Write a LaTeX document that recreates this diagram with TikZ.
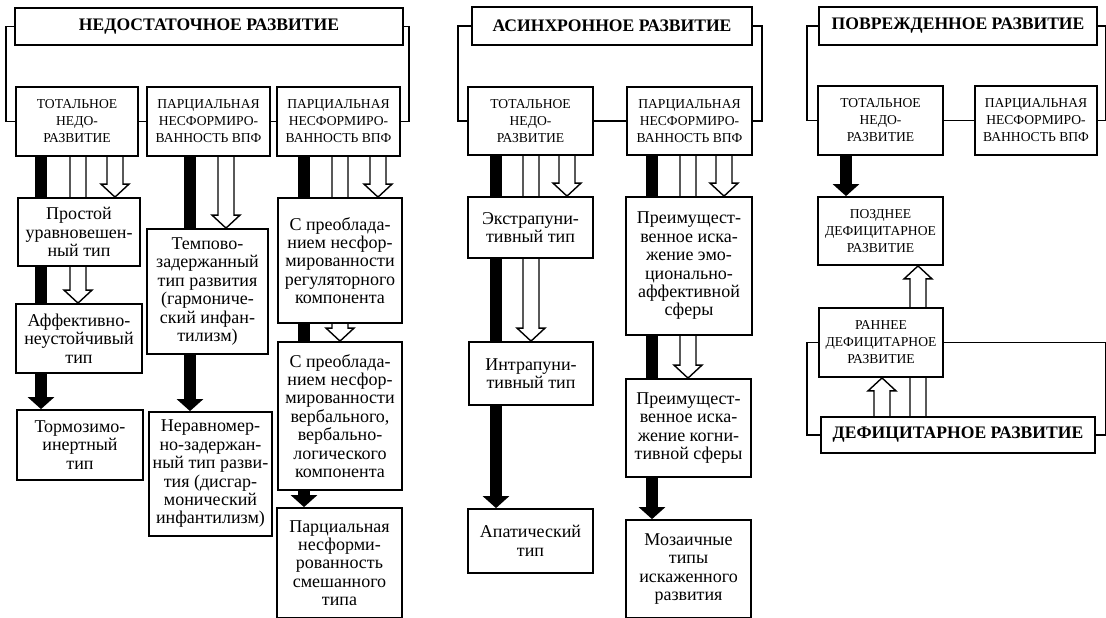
\documentclass[tikz,border=0pt]{standalone}
\usepackage{fontspec}
\setmainfont{Liberation Serif}
\usetikzlibrary{arrows.meta,calc}
\pgfdeclarelayer{bg}
\pgfsetlayers{bg,main}
\tikzset{
  frame/.style={draw, fill=white, line width=0.9pt, inner sep=1pt, align=center},
  head/.style={frame, font=\bfseries\fontsize{8.8}{10}\selectfont},
  kind/.style={frame, font=\fontsize{6.8}{8.5}\selectfont},
  item/.style={frame, font=\fontsize{9}{9.2}\selectfont},
  wh/.style 2 args={minimum width=#1*0.5pt, minimum height=#2*0.5pt},
  link/.style={line width=0.9pt},
  barrow/.style={line width=6pt, -{Triangle[width=13pt,length=6pt]}},
  harrow/.style={draw, fill=white, line width=0.7pt,
    to path={let \p1=(\tikztostart), \p2=(\tikztotarget), \n1={sign(\y1-\y2)} in
      (\x1-4pt,\y1) -- (\x1-4pt,{\y2+\n1*6.5pt}) -- (\x1-7pt,{\y2+\n1*6.5pt})
      -- (\x1,\y2) -- (\x1+7pt,{\y2+\n1*6.5pt}) -- (\x1+4pt,{\y2+\n1*6.5pt})
      -- (\x1+4pt,\y1)}}
}
\begin{document}
\begin{tikzpicture}[x=0.5pt, y=-0.5pt]
	\useasboundingbox (0,0) rectangle (1106,617);
	% headers
	\node[head, wh={388}{37}] (nedo) at (209,26.5) {НЕДОСТАТОЧНОЕ РАЗВИТИЕ};
	\node[head, wh={280}{38}] (asin) at (612,26) {АСИНХРОННОЕ РАЗВИТИЕ};
	\node[head, wh={278}{38}] (povr) at (958,26) {ПОВРЕЖДЕННОЕ РАЗВИТИЕ};
	% second row
	\node[kind, wh={122}{69}] (nedoT) at (77,121.5) {ТОТАЛЬНОЕ\\НЕДО-\\РАЗВИТИЕ};
	\node[kind, wh={123}{69}] (nedoP) at (208.5,121.5) {ПАРЦИАЛЬНАЯ\\НЕСФОРМИРО-\\ВАННОСТЬ ВПФ};
	\node[kind, wh={123}{69}] (nedoQ) at (338.5,121.5) {ПАРЦИАЛЬНАЯ\\НЕСФОРМИРО-\\ВАННОСТЬ ВПФ};
	\node[kind, wh={125}{68}] (asinT) at (530.5,121) {ТОТАЛЬНОЕ\\НЕДО-\\РАЗВИТИЕ};
	\node[kind, wh={125}{68}] (asinP) at (689.5,121) {ПАРЦИАЛЬНАЯ\\НЕСФОРМИРО-\\ВАННОСТЬ ВПФ};
	\node[kind, wh={125}{69}] (povrT) at (880.5,120.5) {ТОТАЛЬНОЕ\\НЕДО-\\РАЗВИТИЕ};
	\node[kind, wh={122}{69}] (povrP) at (1036,120.5) {ПАРЦИАЛЬНАЯ\\НЕСФОРМИРО-\\ВАННОСТЬ ВПФ};
	% types
	\node[item, wh={122}{68}] (prost) at (79,232) {Простой\\уравновешен-\\ный тип};
	\node[item, wh={126}{69}] (affekt) at (79,338.5) {Аффективно-\\неустойчивый\\тип};
	\node[item, wh={126}{70}] (torm) at (80,445) {Тормозимо-\\инертный\\тип};
	\node[item, wh={121}{125}] (tempo) at (207.5,291.5) {Темпово-\\задержанный\\тип развития\\(гармониче-\\ский инфан-\\тилизм)};
	\node[item, wh={123}{124}] (nerav) at (210.5,474) {Неравномер-\\но-задержан-\\ный тип разви-\\тия (дисгар-\\монический\\инфантилизм)};
	\node[item, wh={124}{125}] (regul) at (340,260.5) {С преоблада-\\нием несфор-\\мированности\\регуляторного\\компонента};
	\node[item, wh={124}{148}] (verb) at (340,416) {С преоблада-\\нием несфор-\\мированности\\вербального,\\вербально-\\логического\\компонента};
	\node[item, wh={125}{110}] (smesh) at (339.5,563) {Парциальная\\несформи-\\рованность\\смешанного\\типа};
	\node[item, wh={125}{61}] (ekstra) at (530.5,227.5) {Экстрапуни-\\тивный тип};
	\node[item, wh={124}{63}] (intra) at (531,373.5) {Интрапуни-\\тивный тип};
	\node[item, wh={125}{64}] (apat) at (530.5,541) {Апатический\\тип};
	\node[item, wh={126}{138}] (emoc) at (689,266) {Преимущест-\\венное иска-\\жение эмо-\\ционально-\\аффективной\\сферы};
	\node[item, wh={125}{98}] (kogn) at (688.5,428) {Преимущест-\\венное иска-\\жение когни-\\тивной сферы};
	\node[item, wh={125}{98}] (mozaik) at (688.5,569) {Мозаичные\\типы\\искаженного\\развития};
	\node[kind, wh={125}{68}] (pozd) at (880.5,231) {ПОЗДНЕЕ\\ДЕФИЦИТАРНОЕ\\РАЗВИТИЕ};
	\node[kind, wh={124}{69}] (rann) at (881,342.5) {РАННЕЕ\\ДЕФИЦИТАРНОЕ\\РАЗВИТИЕ};
	\node[head, wh={274}{36}] (defic) at (958,435) {ДЕФИЦИТАРНОЕ РАЗВИТИЕ};
	% brackets and links
	\draw[link] (nedo.west) -- ++(-8,0) |- (nedoT.west);
	\draw[link] (nedo.east) -- ++(5,0) |- (nedoQ.east);
	\draw[link] (nedoT) -- (nedoP);
	\draw[link] (nedoP) -- (nedoQ);
	\draw[link] (asin.west) -- ++(-13,0) |- (asinT.west);
	\draw[link] (asin.east) -- ++(9,0) |- (asinP.east);
	\draw[link] (asinT) -- (asinP);
	\draw[link] (povr.west) -- ++(-11,0) |- (povrT.west);
	\draw[link] (povr.east) -- ++(8,0) |- (povrP.east);
	\draw[link] (povrT) -- (povrP);
	\draw[link] (rann.west) -- ++(-11,0) |- (defic.west);
	\draw[link] (rann.east) -- ++(162,0) |- (defic.east);
	% arrows behind the boxes
	\begin{pgfonlayer}{bg}
	\draw[barrow] (41,0 |- nedoT.south) -- (41,0 |- torm.north);
	\draw[harrow] (78,0 |- nedoT.south) to (78,0 |- affekt.north);
	\draw[harrow] (115,0 |- nedoT.south) to (115,0 |- prost.north);
	\draw[barrow] (190,0 |- nedoP.south) -- (190,0 |- nerav.north);
	\draw[harrow] (226,0 |- nedoP.south) to (226,0 |- tempo.north);
	\draw[barrow] (304,0 |- nedoQ.south) -- (304,0 |- smesh.north);
	\draw[harrow] (340,0 |- nedoQ.south) to (340,0 |- verb.north);
	\draw[harrow] (378,0 |- nedoQ.south) to (378,0 |- regul.north);
	\draw[barrow] (496,0 |- asinT.south) -- (496,0 |- apat.north);
	\draw[harrow] (531,0 |- asinT.south) to (531,0 |- intra.north);
	\draw[harrow] (567,0 |- asinT.south) to (567,0 |- ekstra.north);
	\draw[barrow] (652,0 |- asinP.south) -- (652,0 |- mozaik.north);
	\draw[harrow] (688,0 |- asinP.south) to (688,0 |- kogn.north);
	\draw[harrow] (724,0 |- asinP.south) to (724,0 |- emoc.north);
	\draw[barrow] (846,0 |- povrT.south) -- (846,0 |- pozd.north);
	\draw[harrow] (882,0 |- defic.north) to (882,0 |- rann.south);
	\draw[harrow] (918,0 |- defic.north) to (918,0 |- pozd.south);
	\end{pgfonlayer}
\end{tikzpicture}
\end{document}
